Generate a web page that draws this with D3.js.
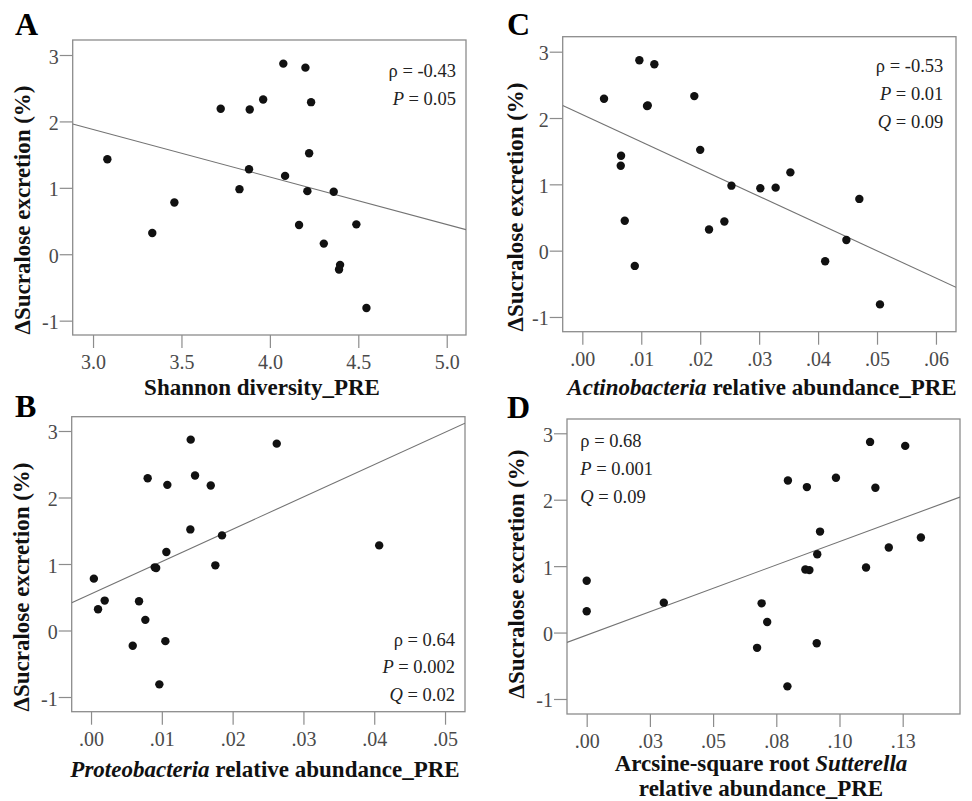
<!DOCTYPE html>
<html>
<head>
<meta charset="utf-8">
<script src="https://cdn.jsdelivr.net/npm/d3@7"></script>
<style>
  body { margin: 0; background: #fff; }
  svg { display: block; }
</style>
</head>
<body>
<svg id="chart" width="972" height="801"></svg>
<script>
// ---------------- DATA ----------------
const yTickValues = [-1, 0, 1, 2, 3];
const yTickLabels = ["-1", "0", "1", "2", "3"];
const yAxisTitle = "\u0394Sucralose excretion (%)";

// Panel A: Shannon diversity
const shannonX = [4.076, 4.201, 3.722, 3.886, 3.962, 4.233, 3.081, 4.222, 3.882, 4.086, 3.828,
                  4.212, 4.361, 3.460, 3.335, 4.165, 4.489, 4.305, 4.397, 4.391, 4.546];
const shannonY = [2.87, 2.81, 2.19, 2.18, 2.33, 2.29, 1.43, 1.52, 1.28, 1.18, 0.98,
                  0.95, 0.94, 0.78, 0.32, 0.44, 0.45, 0.16, -0.16, -0.23, -0.81];
const shannonTicks = [3.0, 3.5, 4.0, 4.5, 5.0];
const shannonTickLabels = ["3.0", "3.5", "4.0", "4.5", "5.0"];
const shannonFit = [-0.715, 4.023];          // slope, intercept
const shannonStatNames = ["\u03C1", "P"];
const shannonStatValues = ["-0.43", "0.05"];

// Panel B: Proteobacteria
const proteoX = [0.01408, 0.02623, 0.0080, 0.01469, 0.01078, 0.01691, 0.01403, 0.0185, 0.0407, 0.01064, 0.01756,
                 0.0090, 0.0092, 0.0004, 0.00193, 0.00678, 0.00099, 0.00767, 0.0105, 0.00589, 0.00965];
const proteoY = [2.87, 2.81, 2.29, 2.33, 2.19, 2.18, 1.52, 1.43, 1.28, 1.18, 0.98,
                 0.95, 0.94, 0.78, 0.45, 0.44, 0.32, 0.16, -0.16, -0.23, -0.81];
const proteoTicks = [0, 0.01, 0.02, 0.03, 0.04, 0.05];
const proteoTickLabels = [".00", ".01", ".02", ".03", ".04", ".05"];
const proteoFit = [48.57, 0.551];
const proteoStatNames = ["\u03C1", "P", "Q"];
const proteoStatValues = ["0.64", "0.002", "0.02"];

// Panel C: Actinobacteria
const actinoX = [0.00968, 0.01222, 0.00368, 0.01098, 0.0111, 0.0190, 0.0200, 0.00657, 0.00652, 0.0253, 0.0302,
                 0.0328, 0.0353, 0.0470, 0.0072, 0.0241, 0.0215, 0.0448, 0.0412, 0.0089, 0.0505];
const actinoY = [2.87, 2.81, 2.29, 2.18, 2.19, 2.33, 1.52, 1.43, 1.28, 0.98, 0.94,
                 0.95, 1.18, 0.78, 0.45, 0.44, 0.32, 0.16, -0.16, -0.23, -0.81];
const actinoTicks = [0, 0.01, 0.02, 0.03, 0.04, 0.05, 0.06];
const actinoTickLabels = [".00", ".01", ".02", ".03", ".04", ".05", ".06"];
const actinoFit = [-41.11, 2.053];
const actinoStatNames = ["\u03C1", "P", "Q"];
const actinoStatValues = ["-0.53", "0.01", "0.09"];

// Panel D: Sutterella (arcsine-square root)
const sutterX = [0.1121, 0.1260, 0.0796, 0.0871, 0.0986, 0.1142, 0.0923, 0.1322, 0.1195, 0.0912, 0.1105,
                 0.0865, 0.0881, 0.0, 0.0305, 0.0692, 0.0, 0.0714, 0.0910, 0.0674, 0.0794];
const sutterY = [2.87, 2.81, 2.29, 2.19, 2.33, 2.18, 1.52, 1.43, 1.28, 1.18, 0.98,
                 0.95, 0.94, 0.78, 0.45, 0.44, 0.32, 0.16, -0.16, -0.23, -0.81];
const sutterTicks = [0, 0.025, 0.05, 0.075, 0.1, 0.125];
const sutterTickLabels = [".00", ".03", ".05", ".08", ".10", ".13"];
const sutterFit = [14.07, -0.038];
const sutterStatNames = ["\u03C1", "P", "Q"];
const sutterStatValues = ["0.68", "0.001", "0.09"];

// ---------------- PANEL DEFINITIONS (data + layout) ----------------
const panels = [
  { letter: "A", xs: shannonX, ys: shannonY, ticks: shannonTicks, tickLabels: shannonTickLabels,
    fit: shannonFit, statNames: shannonStatNames, statValues: shannonStatValues,
    xTitle: [[["Shannon diversity_PRE", false]]],
    L: { left: 72.7, right: 466, top: 40, bottom: 335, xDomain: [2.885, 5.109], yDomain: [-1.216, 3.226],
         letterX: 15, letterY: 35, yTitleX: 30, yTitleCY: 210, xTitleCX: 262, xTitleY: [395],
         statX: 456, statY: 77, statAnchor: "end" } },
  { letter: "B", xs: proteoX, ys: proteoY, ticks: proteoTicks, tickLabels: proteoTickLabels,
    fit: proteoFit, statNames: proteoStatNames, statValues: proteoStatValues,
    xTitle: [[["Proteobacteria", true], [" relative abundance_PRE", false]]],
    L: { left: 71.7, right: 465, top: 416.7, bottom: 711.7, xDomain: [-0.00273, 0.05282], yDomain: [-1.221, 3.215],
         letterX: 15, letterY: 417, yTitleX: 29, yTitleCY: 587, xTitleCX: 265, xTitleY: [776.5],
         statX: 455, statY: 645.5, statAnchor: "end" } },
  { letter: "C", xs: actinoX, ys: actinoY, ticks: actinoTicks, tickLabels: actinoTickLabels,
    fit: actinoFit, statNames: actinoStatNames, statValues: actinoStatValues,
    xTitle: [[["Actinobacteria", true], [" relative abundance_PRE", false]]],
    L: { left: 562.7, right: 956, top: 36.7, bottom: 331.7, xDomain: [-0.00333, 0.0634], yDomain: [-1.222, 3.226],
         letterX: 507, letterY: 35, yTitleX: 523, yTitleCY: 207, xTitleCX: 762, xTitleY: [395],
         statX: 943.3, statY: 72, statAnchor: "end" } },
  { letter: "D", xs: sutterX, ys: sutterY, ticks: sutterTicks, tickLabels: sutterTickLabels,
    fit: sutterFit, statNames: sutterStatNames, statValues: sutterStatValues,
    xTitle: [[["Arcsine-square root ", false], ["Sutterella", true]], [["relative abundance_PRE", false]]],
    L: { left: 567, right: 960, top: 419, bottom: 714, xDomain: [-0.00779, 0.14767], yDomain: [-1.226, 3.215],
         letterX: 507, letterY: 418, yTitleX: 524, yTitleCY: 574, xTitleCX: 761, xTitleY: [771, 796],
         statX: 580.3, statY: 447.3, statAnchor: "start" } }
];

// ---------------- DRAW ----------------
const FONT = "'Liberation Serif', 'DejaVu Serif', serif";
const svg = d3.select("#chart").attr("font-family", FONT);
svg.append("rect").attr("width", 972).attr("height", 801).attr("fill", "#fff");

const frameColor = "#8c8c8c";
const tickTextColor = "#4a4a4a";

panels.forEach((p, pi) => {
  const L = p.L;
  const x = d3.scaleLinear().domain(L.xDomain).range([L.left, L.right]);
  const y = d3.scaleLinear().domain(L.yDomain).range([L.bottom, L.top]);
  const g = svg.append("g").attr("class", "panel-" + p.letter).attr("font-family", FONT);

  const clipId = "clip" + pi;
  g.append("clipPath").attr("id", clipId)
    .append("rect").attr("x", L.left).attr("y", L.top)
    .attr("width", L.right - L.left).attr("height", L.bottom - L.top);

  const xAxis = d3.axisBottom(x).tickValues(p.ticks)
    .tickFormat((d, i) => p.tickLabels[i]).tickSize(13).tickPadding(7);
  const gx = g.append("g").attr("transform", `translate(0,${L.bottom})`).call(xAxis);
  const yAxis = d3.axisLeft(y).tickValues(yTickValues)
    .tickFormat((d, i) => yTickLabels[i]).tickSize(13).tickPadding(1);
  const gy = g.append("g").attr("transform", `translate(${L.left},0)`).call(yAxis);
  [gx, gy].forEach(ax => {
    ax.attr("font-family", FONT).attr("font-size", 20);
    ax.select(".domain").remove();
    ax.selectAll(".tick line").attr("stroke", frameColor).attr("stroke-width", 1.2);
    ax.selectAll(".tick text").attr("fill", tickTextColor);
  });
  gy.selectAll(".tick text").attr("dy", "0.4em");

  g.append("rect").attr("x", L.left).attr("y", L.top)
    .attr("width", L.right - L.left).attr("height", L.bottom - L.top)
    .attr("fill", "none").attr("stroke", frameColor).attr("stroke-width", 1.3);

  const [slope, intercept] = p.fit;
  const fitPts = L.xDomain.map(v => [v, intercept + slope * v]);
  g.append("path")
    .attr("clip-path", `url(#${clipId})`)
    .attr("d", d3.line().x(d => x(d[0])).y(d => y(d[1]))(fitPts))
    .attr("fill", "none").attr("stroke", "#737373").attr("stroke-width", 1.1);

  g.append("g").selectAll("circle")
    .data(p.xs.map((v, i) => [v, p.ys[i]]))
    .join("circle")
    .attr("cx", d => x(d[0])).attr("cy", d => y(d[1]))
    .attr("r", 4.2).attr("fill", "#111");

  p.statNames.forEach((nm, i) => {
    const t = g.append("text")
      .attr("x", L.statX).attr("y", L.statY + i * 27.8)
      .attr("text-anchor", L.statAnchor)
      .attr("font-size", 18.5).attr("fill", "#222");
    t.append("tspan").attr("font-style", nm === "\u03C1" ? "normal" : "italic").text(nm);
    t.append("tspan").text(" = " + p.statValues[i]);
  });

  g.append("text")
    .attr("transform", `translate(${L.yTitleX},${L.yTitleCY}) rotate(-90)`)
    .attr("text-anchor", "middle")
    .attr("font-size", 23).attr("font-weight", "bold").attr("fill", "#111")
    .text(yAxisTitle);

  p.xTitle.forEach((line, li) => {
    const t = g.append("text")
      .attr("x", L.xTitleCX).attr("y", L.xTitleY[li])
      .attr("text-anchor", "middle")
      .attr("font-size", 23).attr("font-weight", "bold").attr("fill", "#111");
    line.forEach(seg => {
      t.append("tspan").attr("font-style", seg[1] ? "italic" : "normal").text(seg[0]);
    });
  });

  g.append("text").attr("x", L.letterX).attr("y", L.letterY)
    .attr("font-size", 32).attr("font-weight", "bold").attr("fill", "#000")
    .text(p.letter);
});
</script>
</body>
</html>
